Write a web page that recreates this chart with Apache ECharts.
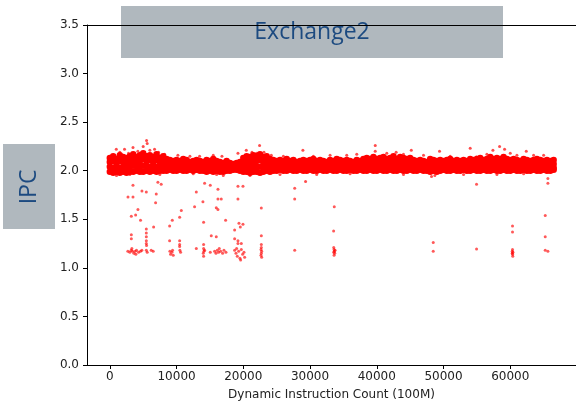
<!DOCTYPE html>
<html>
<head>
<meta charset="utf-8">
<script src="https://cdn.jsdelivr.net/npm/echarts@6/dist/echarts.min.js"></script>
<style>
  html, body { margin: 0; padding: 0; background: #fff; }
  #chart { width: 576px; height: 406px; }
</style>
</head>
<body>
<div id="chart"></div>
<script>
// IPC per 100M-instruction interval for the Exchange2 workload.

const titleText = 'Exchange2';
const yName = 'IPC';
const xName = 'Dynamic Instruction Count (100M)';

const xTicks = [0, 10000, 20000, 30000, 40000, 50000, 60000];
const yTicks = [0, 0.5, 1.0, 1.5, 2.0, 2.5, 3.0, 3.5];

// Main IPC band: one column every bandStep intervals, four levels per column
// (top edge, upper, lower, bottom edge of the dense cloud).
const bandStep = 500;
const bandHi = [
  2.13,2.15,2.12,2.16,2.14,2.13,2.15,2.17,2.14,2.16,
  2.18,2.15,2.16,2.14,2.17,2.13,2.15,2.12,2.11,2.10,
  2.11,2.10,2.12,2.11,2.09,2.10,2.11,2.10,2.09,2.11,
  2.10,2.12,2.10,2.09,2.08,2.10,2.08,2.07,2.08,2.09,
  2.13,2.15,2.14,2.16,2.15,2.17,2.14,2.15,2.12,2.11,
  2.10,2.11,2.10,2.12,2.10,2.11,2.09,2.10,2.11,2.10,
  2.11,2.12,2.10,2.11,2.10,2.09,2.11,2.10,2.12,2.11,
  2.10,2.11,2.10,2.09,2.11,2.10,2.12,2.13,2.12,2.14,
  2.12,2.13,2.14,2.12,2.13,2.15,2.12,2.14,2.13,2.12,
  2.13,2.11,2.10,2.11,2.10,2.09,2.12,2.11,2.10,2.11,
  2.10,2.11,2.12,2.10,2.11,2.10,2.11,2.10,2.12,2.11,
  2.12,2.13,2.11,2.12,2.14,2.12,2.13,2.12,2.14,2.12,
  2.11,2.12,2.11,2.10,2.12,2.11,2.10,2.11,2.12,2.11,
  2.10,2.11,2.10,2.11
];
const bandUp = [
  2.09,2.10,2.08,2.10,2.09,2.09,2.10,2.11,2.10,2.10,
  2.12,2.10,2.11,2.09,2.11,2.09,2.10,2.08,2.08,2.07,
  2.07,2.07,2.08,2.07,2.06,2.07,2.07,2.07,2.06,2.07,
  2.07,2.08,2.07,2.06,2.06,2.07,2.06,2.05,2.06,2.06,
  2.09,2.10,2.09,2.10,2.10,2.11,2.09,2.10,2.08,2.07,
  2.07,2.07,2.07,2.08,2.07,2.07,2.06,2.07,2.07,2.07,
  2.07,2.08,2.07,2.07,2.07,2.06,2.07,2.07,2.08,2.07,
  2.07,2.07,2.07,2.06,2.07,2.07,2.08,2.09,2.08,2.09,
  2.08,2.09,2.09,2.08,2.09,2.10,2.08,2.09,2.09,2.08,
  2.09,2.07,2.07,2.07,2.07,2.06,2.08,2.07,2.07,2.07,
  2.07,2.07,2.08,2.07,2.07,2.07,2.07,2.07,2.08,2.07,
  2.08,2.09,2.07,2.08,2.09,2.08,2.09,2.08,2.09,2.08,
  2.07,2.08,2.07,2.07,2.08,2.07,2.07,2.07,2.08,2.07,
  2.07,2.07,2.07,2.07
];
const bandDn = [
  2.04,2.03,2.04,2.03,2.04,2.03,2.04,2.05,2.05,2.04,
  2.05,2.05,2.04,2.05,2.04,2.04,2.05,2.04,2.04,2.03,
  2.04,2.04,2.04,2.03,2.04,2.03,2.04,2.03,2.03,2.03,
  2.03,2.03,2.04,2.03,2.02,2.03,2.03,2.03,2.03,2.03,
  2.04,2.04,2.03,2.04,2.04,2.04,2.04,2.05,2.04,2.04,
  2.03,2.04,2.03,2.04,2.04,2.03,2.03,2.04,2.04,2.03,
  2.04,2.04,2.03,2.04,2.03,2.03,2.04,2.03,2.04,2.04,
  2.03,2.04,2.04,2.03,2.04,2.04,2.04,2.05,2.04,2.05,
  2.04,2.05,2.05,2.04,2.05,2.05,2.04,2.05,2.05,2.04,
  2.05,2.04,2.03,2.04,2.04,2.03,2.04,2.04,2.03,2.04,
  2.04,2.03,2.04,2.04,2.03,2.04,2.04,2.03,2.04,2.04,
  2.04,2.05,2.04,2.04,2.05,2.04,2.05,2.04,2.05,2.04,
  2.04,2.04,2.03,2.04,2.04,2.04,2.03,2.04,2.04,2.04,
  2.03,2.04,2.04,2.03
];
const bandLo = [
  1.99,1.98,1.99,1.98,1.99,1.98,1.99,1.99,2.00,1.99,
  1.99,2.00,1.99,2.00,1.99,2.00,2.00,2.00,2.01,2.00,
  2.00,2.01,2.00,2.00,2.01,2.00,2.01,2.00,2.00,1.99,
  2.00,1.99,2.00,1.99,1.99,2.00,2.00,2.01,2.01,2.00,
  1.99,1.99,1.98,1.99,1.99,1.98,1.99,2.00,1.99,2.00,
  2.00,2.01,2.00,2.00,2.01,2.00,2.00,2.01,2.00,2.00,
  2.01,2.00,2.00,2.01,2.00,2.00,2.01,2.00,2.00,2.01,
  2.00,2.00,2.01,2.00,2.00,2.01,2.00,2.00,2.01,2.00,
  2.00,2.01,2.00,2.00,2.01,2.00,2.00,2.01,2.00,2.00,
  2.01,2.00,2.00,2.01,2.00,2.00,1.99,2.00,1.99,2.00,
  2.01,2.00,2.00,2.01,2.00,2.00,2.01,2.00,2.00,2.01,
  2.00,2.00,2.01,2.00,2.00,2.01,2.00,2.00,2.01,2.00,
  2.00,2.01,2.00,2.00,2.01,2.00,2.00,2.01,2.00,2.00,
  2.01,2.00,2.00,2.01
];

// Sparse samples around the edges of the band.
const fringePoints = [
  [970,2.22],[2200,2.22],[3470,2.24],[1500,2.19],[2800,2.18],[4200,2.20],
  [5000,2.25],[5500,2.31],[5600,2.28],[6000,2.21],[6700,2.22],[7300,2.19],
  [4600,2.18],[8200,2.17],[10200,2.16],[12000,2.15],[13450,2.15],[15500,2.16],
  [16800,2.15],[19200,2.18],[20450,2.21],[21300,2.19],[22440,2.26],[23100,2.19],
  [22000,2.18],[24200,2.16],[26000,2.15],[28930,2.21],[30500,2.15],[33000,2.16],
  [35500,2.16],[37000,2.17],[39770,2.26],[39770,2.20],[41500,2.18],[42900,2.19],
  [44000,2.17],[45170,2.21],[47000,2.16],[49400,2.20],[51000,2.15],[54000,2.23],
  [54900,2.14],[56500,2.17],[57400,2.21],[58400,2.25],[59150,2.22],[60000,2.18],
  [61000,2.16],[62400,2.20],[63500,2.16],[65000,2.16],
  [1000,1.95],[3000,1.96],[7500,1.96],[12500,1.97],[16000,1.96],[17000,1.95],
  [21000,1.95],[25500,1.96],[29330,1.89],[31000,1.96],[36000,1.97],[44000,1.96],
  [48200,1.94],[48700,1.95],[53000,1.96],[58000,1.96],[62000,1.97]
];

// Low-IPC phases well below the band.
const lowPoints = [
  [2700,1.17],[3000,1.16],[3200,1.18],[3400,1.17],[3600,1.15],[3800,1.17],
  [4000,1.18],[4300,1.16],[4600,1.17],[4800,1.18],[3300,1.20],[3900,1.14],
  [5470,1.40],[5470,1.36],[5470,1.32],[5470,1.28],[5470,1.25],[5500,1.23],
  [5470,1.18],[5600,1.16],[6200,1.18],[6500,1.17],
  [3220,1.34],[3220,1.30],[3220,1.53],[3870,1.545],[4210,1.60],[4600,1.49],
  [6560,1.42],[2720,1.73],[3470,1.73],[3470,1.85],[4810,1.79],[5470,1.78],
  [6960,1.76],[6860,1.67],[7200,1.88],[7700,1.86],
  [9000,1.17],[9100,1.14],[9300,1.16],[9500,1.13],[9400,1.18],
  [8960,1.28],[8960,1.43],[9360,1.49],[10460,1.52],[10710,1.59],[10460,1.28],
  [10460,1.24],[10460,1.22],[10500,1.18],[10600,1.16],
  [12960,1.78],[12700,1.63],[13950,1.68],[14200,1.87],[15050,1.85],[16200,1.81],
  [16200,1.71],[16700,1.71],[15950,1.62],[16200,1.60],[14050,1.47],[15200,1.33],
  [15950,1.32],[17350,1.49],[12960,1.20],
  [14050,1.24],[14050,1.20],[14100,1.17],[14000,1.15],[14050,1.12],[14200,1.18],
  [15050,1.16],[15700,1.17],[15900,1.15],[16100,1.18],[16300,1.16],[16600,1.17],
  [16900,1.15],[17100,1.18],[17400,1.16],[16400,1.20],
  [19200,1.84],[19950,1.84],[19200,1.71],[19350,1.46],[19550,1.42],[18700,1.39],
  [18700,1.30],[19200,1.28],[19200,1.25],[19700,1.25],[19950,1.45],
  [18700,1.18],[18900,1.15],[19100,1.12],[19300,1.17],[19500,1.10],[19700,1.19],
  [19900,1.14],[20100,1.16],[20200,1.11],[19600,1.08],[19000,1.20],
  [22700,1.33],[22700,1.615],[22700,1.24],[22700,1.21],[22650,1.19],[22750,1.17],
  [22700,1.15],[22650,1.13],[22750,1.11],
  [27700,1.82],[27700,1.71],[27700,1.18],
  [33630,1.63],[33530,1.38],[33550,1.21],[33600,1.19],[33650,1.17],[33550,1.16],
  [33700,1.15],[33600,1.13],[33750,1.18],
  [48460,1.26],[48460,1.17],
  [54950,1.86],[54950,1.195],
  [60340,1.43],[60340,1.37],[60340,1.19],[60300,1.17],[60400,1.16],[60340,1.14],
  [60380,1.12],[60300,1.15],
  [65640,1.92],[65640,1.87],[65240,1.54],[65240,1.32],[65240,1.18],[65640,1.17]
];

const xMin = -3420;
const xMax = 69850;

function rowPoints(row) {
  return row.map((v, i) => [i * bandStep, v]);
}
const bandPoints = [].concat(
  rowPoints(bandHi), rowPoints(bandUp), rowPoints(bandDn), rowPoints(bandLo)
);

const labelFont = { fontFamily: 'DejaVu Sans', fontSize: 12, color: '#222' };
const titleBlue = '#1c4a80';
const boxGray = '#b0b8be';

const chart = echarts.init(document.getElementById('chart'), null, { renderer: 'canvas' });

chart.setOption({
  animation: false,
  backgroundColor: '#fff',
  grid: { left: 87, top: 25, right: 0, bottom: 39.5, containLabel: false },
  xAxis: [
    {
      type: 'value',
      min: xMin,
      max: xMax,
      position: 'bottom',
      name: xName,
      nameLocation: 'middle',
      nameGap: 24,
      nameTextStyle: labelFont,
      axisLine: { show: true, onZero: false, lineStyle: { color: '#000', width: 1 } },
      axisTick: { show: true, length: 4, lineStyle: { color: '#000' }, customValues: xTicks },
      axisLabel: Object.assign({ margin: 6, customValues: xTicks, formatter: v => String(v) }, labelFont),
      splitLine: { show: false }
    },
    {
      type: 'value',
      min: xMin,
      max: xMax,
      position: 'top',
      axisLine: { show: true, onZero: false, lineStyle: { color: '#000', width: 1 } },
      axisTick: { show: false },
      axisLabel: { show: false },
      splitLine: { show: false }
    }
  ],
  yAxis: {
    type: 'value',
    min: 0,
    max: 3.5,
    interval: 0.5,
    axisLine: { show: true, onZero: false, lineStyle: { color: '#000', width: 1 } },
    axisTick: { show: true, length: 4, lineStyle: { color: '#000' }, customValues: yTicks },
    axisLabel: Object.assign({
      margin: 8,
      customValues: yTicks,
      formatter: v => Number(v).toFixed(1)
    }, labelFont),
    splitLine: { show: false }
  },
  series: [
    {
      name: 'IPC band',
      type: 'scatter',
      data: bandPoints,
      symbol: 'circle',
      symbolSize: 6.5,
      itemStyle: { color: '#ff0000', opacity: 1 },
      silent: true
    },
    {
      name: 'IPC fringe',
      type: 'scatter',
      data: fringePoints,
      symbolSize: 3,
      itemStyle: { color: '#ff0000', opacity: 0.7 },
      silent: true
    },
    {
      name: 'IPC low',
      type: 'scatter',
      data: lowPoints,
      symbolSize: 3,
      itemStyle: { color: '#ff0000', opacity: 0.65 },
      silent: true
    }
  ],
  graphic: [
    {
      type: 'group',
      left: 121,
      top: 6,
      z: 100,
      children: [
        { type: 'rect', shape: { x: 0, y: 0, width: 382, height: 52 }, style: { fill: boxGray } },
        {
          type: 'text', x: 191, y: 26,
          style: {
            text: titleText, fill: titleBlue, font: '23px "Open Sans", sans-serif',
            align: 'center', verticalAlign: 'middle'
          }
        }
      ]
    },
    {
      type: 'group',
      left: 3,
      top: 144,
      z: 100,
      children: [
        { type: 'rect', shape: { x: 0, y: 0, width: 52, height: 85 }, style: { fill: boxGray } },
        {
          type: 'text', x: 26, y: 43, rotation: Math.PI / 2,
          style: {
            text: yName, fill: titleBlue, font: '23px "Open Sans", sans-serif',
            align: 'center', verticalAlign: 'middle'
          }
        }
      ]
    }
  ]
});
</script>
</body>
</html>
